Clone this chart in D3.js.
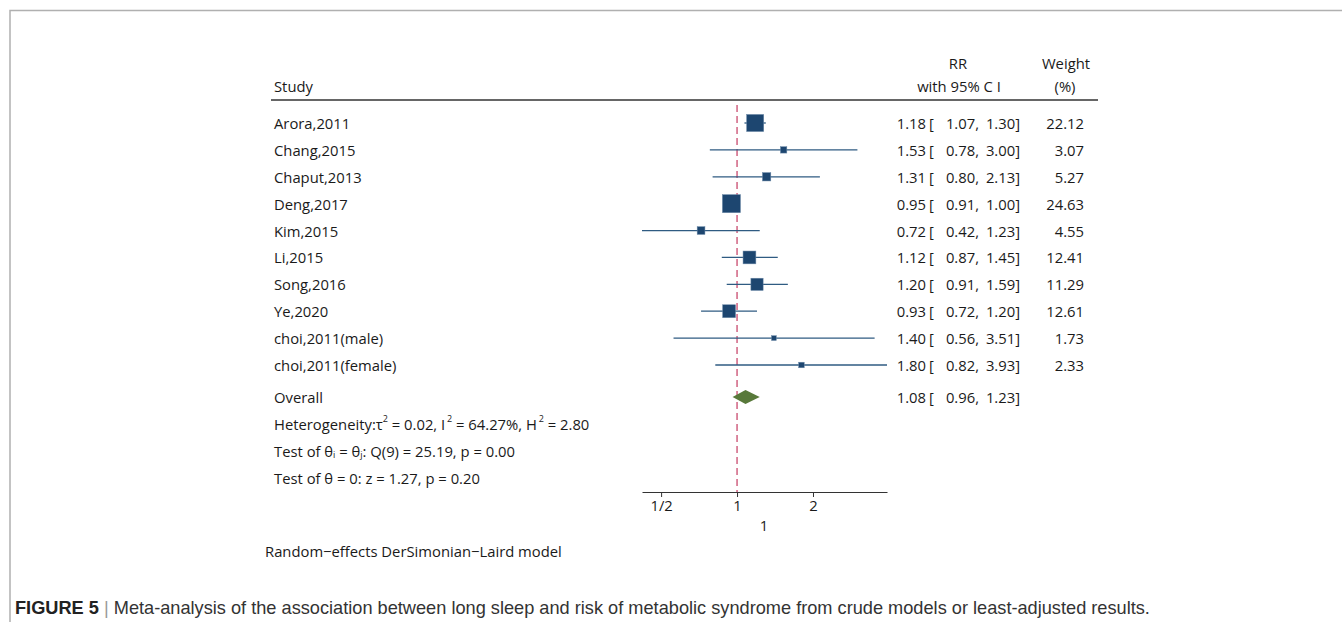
<!DOCTYPE html>
<html>
<head>
<meta charset="utf-8">
<script src="https://cdn.jsdelivr.net/npm/d3@7"></script>
<style>
    body { margin: 0; background: #fff; }
    text { font-family: "Open Sans", "Noto Sans", sans-serif; fill: #1a1a1a; }
</style>
</head>
<body>
<div id="visualization_container"></div>
<script>
// data
const studies = ["Arora,2011", "Chang,2015", "Chaput,2013", "Deng,2017", "Kim,2015", "Li,2015",
    "Song,2016", "Ye,2020", "choi,2011(male)", "choi,2011(female)"];
const rr = [1.18, 1.53, 1.31, 0.95, 0.72, 1.12, 1.20, 0.93, 1.40, 1.80];
const lower = [1.07, 0.78, 0.80, 0.91, 0.42, 0.87, 0.91, 0.72, 0.56, 0.82];
const upper = [1.30, 3.00, 2.13, 1.00, 1.23, 1.45, 1.59, 1.20, 3.51, 3.93];
const weights = [22.12, 3.07, 5.27, 24.63, 4.55, 12.41, 11.29, 12.61, 1.73, 2.33];
const overall = {rr: 1.08, lower: 0.96, upper: 1.23};
const tickValues = [0.5, 1, 2];
const tickLabels = ["1/2", "1", "2"];

const width = 1342, height = 622;
const fs = "14.8px";

const svg = d3.select("#visualization_container")
    .append("svg")
    .attr("width", width)
    .attr("height", height);

// frame of the figure panel
svg.append("path")
    .attr("d", "M10,622 V10.5 H1342")
    .attr("fill", "none")
    .attr("stroke", "#b0b0b0")
    .attr("stroke-width", 1.5);

// scales
var x = d3.scaleLog().base(2)
    .domain([d3.min(lower), d3.max(upper)])
    .range([642, 887]);

var rowIndex = d3.range(studies.length);
var y = d3.scalePoint()
    .domain(rowIndex)
    .range([123, 365]);

var axisY = 492;
var overallY = 397;

// header
svg.append("text").attr("x", 274).attr("y", 86).attr("dominant-baseline", "central")
    .style("font-size", fs).text("Study");
svg.append("text").attr("x", 958).attr("y", 63).attr("dominant-baseline", "central")
    .attr("text-anchor", "middle").style("font-size", fs).text("RR");
svg.append("text").attr("x", 959).attr("y", 86).attr("dominant-baseline", "central")
    .attr("text-anchor", "middle").style("font-size", fs).text("with 95% C I");
svg.append("text").attr("x", 1066).attr("y", 63).attr("dominant-baseline", "central")
    .attr("text-anchor", "middle").style("font-size", fs).text("Weight");
svg.append("text").attr("x", 1065).attr("y", 86).attr("dominant-baseline", "central")
    .attr("text-anchor", "middle").style("font-size", fs).text("(%)");

svg.append("line")
    .attr("x1", 271).attr("x2", 1098)
    .attr("y1", 100).attr("y2", 100)
    .attr("stroke", "#333")
    .attr("stroke-width", 1.6);

// null line
svg.append("line")
    .attr("x1", x(1)).attr("x2", x(1))
    .attr("y1", 105).attr("y2", axisY)
    .attr("stroke", "#c94a6e")
    .attr("stroke-width", 1.3)
    .attr("stroke-dasharray", "7,4");

// study rows
var rows = svg.append("g").attr("id", "rows");

rows.selectAll(".ci")
    .data(rowIndex)
    .enter().append("line")
    .attr("class", "ci")
    .attr("x1", function (i) { return x(lower[i]); })
    .attr("x2", function (i) { return x(upper[i]); })
    .attr("y1", function (i) { return y(i); })
    .attr("y2", function (i) { return y(i); })
    .attr("stroke", "#2f5b82")
    .attr("stroke-width", 1.3);

rows.selectAll(".box")
    .data(rowIndex)
    .enter().append("rect")
    .attr("class", "box")
    .attr("x", function (i) { return x(rr[i]) - 1.82 * Math.sqrt(weights[i]); })
    .attr("y", function (i) { return y(i) - 1.82 * Math.sqrt(weights[i]); })
    .attr("width", function (i) { return 3.64 * Math.sqrt(weights[i]); })
    .attr("height", function (i) { return 3.64 * Math.sqrt(weights[i]); })
    .attr("fill", "#1d4670")
    .attr("stroke", "#6d8aa8")
    .attr("stroke-width", 0.5);

rows.selectAll(".study")
    .data(rowIndex)
    .enter().append("text")
    .attr("class", "study")
    .attr("x", 274)
    .attr("y", function (i) { return y(i); })
    .attr("dominant-baseline", "central")
    .style("font-size", fs)
    .text(function (i) { return studies[i]; });

function rrColumns(g, cy, est, lo, hi) {
    g.append("text").attr("x", 926).attr("y", cy).attr("text-anchor", "end")
        .attr("dominant-baseline", "central").style("font-size", fs).text(est.toFixed(2));
    g.append("text").attr("x", 929).attr("y", cy)
        .attr("dominant-baseline", "central").style("font-size", fs).text("[");
    g.append("text").attr("x", 979).attr("y", cy).attr("text-anchor", "end")
        .attr("dominant-baseline", "central").style("font-size", fs).text(lo.toFixed(2) + ",");
    g.append("text").attr("x", 1020).attr("y", cy).attr("text-anchor", "end")
        .attr("dominant-baseline", "central").style("font-size", fs).text(hi.toFixed(2) + "]");
}

rowIndex.forEach(function (i) {
    rrColumns(rows, y(i), rr[i], lower[i], upper[i]);
    rows.append("text").attr("x", 1084).attr("y", y(i)).attr("text-anchor", "end")
        .attr("dominant-baseline", "central").style("font-size", fs).text(weights[i].toFixed(2));
});

// overall
svg.append("path")
    .attr("d", "M" + x(overall.lower) + "," + overallY +
        " L" + x(overall.rr) + "," + (overallY - 7) +
        " L" + x(overall.upper) + "," + overallY +
        " L" + x(overall.rr) + "," + (overallY + 7) + " Z")
    .attr("fill", "#58793a");

svg.append("text").attr("x", 274).attr("y", overallY).attr("dominant-baseline", "central")
    .style("font-size", fs).text("Overall");
rrColumns(svg, overallY, overall.rr, overall.lower, overall.upper);

// heterogeneity statistics
var het = svg.append("text").attr("x", 274).attr("y", 424).attr("dominant-baseline", "central")
    .style("font-size", fs);
het.append("tspan").text("Heterogeneity:\u03c4");
het.append("tspan").attr("dy", -6).style("font-size", "9px").text("2");
het.append("tspan").attr("dy", 6).text(" = 0.02, I ");
het.append("tspan").attr("dy", -6).attr("dx", -2).style("font-size", "9px").text("2");
het.append("tspan").attr("dy", 6).text(" = 64.27%, H ");
het.append("tspan").attr("dy", -6).attr("dx", -2).style("font-size", "9px").text("2");
het.append("tspan").attr("dy", 6).text(" = 2.80");

var t1 = svg.append("text").attr("x", 274).attr("y", 451).attr("dominant-baseline", "central")
    .style("font-size", fs);
t1.append("tspan").text("Test of \u03b8");
t1.append("tspan").attr("dy", 3).style("font-size", "9px").text("i");
t1.append("tspan").attr("dy", -3).text(" = \u03b8");
t1.append("tspan").attr("dy", 3).style("font-size", "9px").text("j");
t1.append("tspan").attr("dy", -3).text(": Q(9) = 25.19, p = 0.00");

svg.append("text").attr("x", 274).attr("y", 478).attr("dominant-baseline", "central")
    .style("font-size", fs).text("Test of \u03b8 = 0: z = 1.27, p = 0.20");

// x axis
var xAxis = svg.append("g")
    .attr("transform", "translate(0," + axisY + ")")
    .call(d3.axisBottom(x)
        .tickValues(tickValues)
        .tickSize(5)
        .tickPadding(3)
        .tickSizeOuter(0)
        .tickFormat(function (d, i) { return tickLabels[i]; }));
xAxis.select(".domain").attr("stroke", "#333").attr("stroke-width", 1.2);
xAxis.selectAll(".tick line").attr("stroke", "#333");
xAxis.selectAll(".tick text")
    .style("font-family", "'Open Sans', sans-serif")
    .style("font-size", fs)
    .attr("fill", "#1a1a1a");

svg.append("text").attr("x", 764).attr("y", 525).attr("text-anchor", "middle")
    .attr("dominant-baseline", "central").style("font-size", fs).text("1");

svg.append("text").attr("x", 265).attr("y", 551).attr("dominant-baseline", "central")
    .style("font-size", fs).text("Random\u2212effects DerSimonian\u2212Laird model");

// figure caption
var cap = svg.append("text").attr("x", 15).attr("y", 608).attr("dominant-baseline", "central")
    .style("font-family", "'Liberation Sans', Arial, sans-serif")
    .style("font-size", "18.2px");
cap.append("tspan").style("font-weight", "bold").style("fill", "#222").text("FIGURE 5");
cap.append("tspan").style("fill", "#999").text(" | ");
cap.append("tspan").style("fill", "#333")
    .text("Meta-analysis of the association between long sleep and risk of metabolic syndrome from crude models or least-adjusted results.");
</script>
</body>
</html>
